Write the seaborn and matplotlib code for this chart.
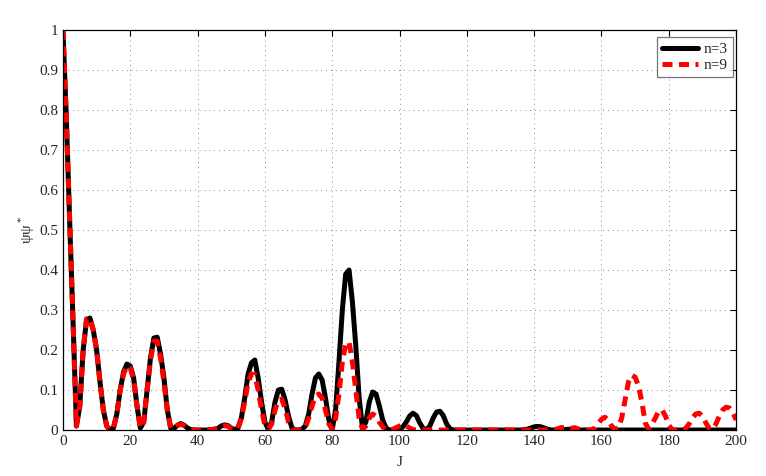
import numpy as np
import pandas as pd
import matplotlib
matplotlib.use('Agg')
import matplotlib.pyplot as plt
import seaborn as sns

# probability psi*psi at each step J = 0..200
J = list(range(201))

n3 = [
    1.00, 0.78, 0.52, 0.27, 0.01, 0.06, 0.20, 0.275, 0.28, 0.25,   # 0-9
    0.20, 0.12, 0.05, 0.01, 0.0, 0.005, 0.04, 0.10, 0.145, 0.165,  # 10-19
    0.16, 0.13, 0.06, 0.005, 0.02, 0.10, 0.18, 0.23, 0.232, 0.19,  # 20-29
    0.13, 0.05, 0.005, 0.004, 0.012, 0.016, 0.012, 0.005, 0.001, 0.0,  # 30-39
    0.0, 0.0, 0.0, 0.0, 0.001, 0.002, 0.004, 0.010, 0.013, 0.011,  # 40-49
    0.005, 0.001, 0.005, 0.03, 0.08, 0.14, 0.168, 0.175, 0.13, 0.07,  # 50-59
    0.02, 0.002, 0.02, 0.07, 0.10, 0.102, 0.075, 0.035, 0.006, 0.0,  # 60-69
    0.0, 0.002, 0.01, 0.04, 0.09, 0.13, 0.14, 0.125, 0.08, 0.025,  # 70-79
    0.002, 0.05, 0.17, 0.30, 0.39, 0.40, 0.32, 0.21, 0.08, 0.005,  # 80-89
    0.02, 0.07, 0.095, 0.09, 0.06, 0.025, 0.005, 0.0, 0.0, 0.0,  # 90-99
    0.002, 0.008, 0.02, 0.035, 0.042, 0.036, 0.018, 0.004, 0.001, 0.01,  # 100-109
    0.03, 0.045, 0.047, 0.036, 0.015, 0.003, 0.0, 0.0, 0.0, 0.0,  # 110-119
    0.0, 0.0, 0.0, 0.0, 0.0, 0.0, 0.0, 0.0, 0.0, 0.0,  # 120-129
    0.0, 0.0, 0.0, 0.0, 0.0, 0.0, 0.0, 0.001, 0.002, 0.005,  # 130-139
    0.008, 0.009, 0.008, 0.005, 0.002, 0.0, 0.0, 0.0, 0.0, 0.001,  # 140-149
    0.002, 0.001, 0.0, 0.0, 0.0, 0.0, 0.0, 0.0, 0.0, 0.0,  # 150-159
    0.0, 0.0, 0.0, 0.0, 0.0, 0.0, 0.0, 0.0, 0.0, 0.0,  # 160-169
    0.0, 0.0, 0.0, 0.0, 0.0, 0.0, 0.0, 0.0, 0.0, 0.0,  # 170-179
    0.0, 0.0, 0.0, 0.0, 0.0, 0.0, 0.0, 0.0, 0.0, 0.0,  # 180-189
    0.0, 0.0, 0.0, 0.0, 0.0, 0.0, 0.0, 0.0, 0.0, 0.0,  # 190-199
    0.0,
]

n9 = [
    1.00, 0.78, 0.52, 0.27, 0.01, 0.06, 0.20, 0.278, 0.28, 0.25,   # 0-9
    0.20, 0.12, 0.05, 0.01, 0.0, 0.005, 0.04, 0.10, 0.14, 0.16,  # 10-19
    0.155, 0.125, 0.06, 0.005, 0.02, 0.10, 0.175, 0.222, 0.222, 0.18,  # 20-29
    0.12, 0.05, 0.005, 0.004, 0.011, 0.014, 0.011, 0.005, 0.001, 0.0,  # 30-39
    0.0, 0.0, 0.0, 0.0, 0.001, 0.002, 0.004, 0.009, 0.011, 0.009,  # 40-49
    0.004, 0.001, 0.004, 0.03, 0.07, 0.12, 0.14, 0.138, 0.10, 0.05,  # 50-59
    0.012, 0.002, 0.015, 0.05, 0.075, 0.077, 0.055, 0.02, 0.004, 0.0,  # 60-69
    0.0, 0.0, 0.006, 0.03, 0.06, 0.085, 0.09, 0.08, 0.05, 0.015,  # 70-79
    0.002, 0.03, 0.09, 0.17, 0.215, 0.22, 0.17, 0.10, 0.03, 0.002,  # 80-89
    0.01, 0.03, 0.04, 0.035, 0.02, 0.008, 0.001, 0.0, 0.002, 0.006,  # 90-99
    0.01, 0.012, 0.01, 0.005, 0.001, 0.0, 0.0, 0.0, 0.0, 0.0,  # 100-109
    0.0, 0.0, 0.0, 0.0, 0.0, 0.0, 0.0, 0.0, 0.0, 0.0,  # 110-119
    0.0, 0.0, 0.0, 0.0, 0.0, 0.0, 0.0, 0.0, 0.0, 0.0,  # 120-129
    0.0, 0.0, 0.0, 0.0, 0.0, 0.0, 0.0, 0.0, 0.0, 0.0,  # 130-139
    0.0, 0.0, 0.0, 0.0, 0.0, 0.0, 0.001, 0.003, 0.006, 0.006,  # 140-149
    0.003, 0.004, 0.006, 0.003, 0.0, 0.0, 0.0, 0.0, 0.005, 0.015,  # 150-159
    0.027, 0.032, 0.025, 0.01, 0.002, 0.005, 0.03, 0.075, 0.12, 0.137,  # 160-169
    0.132, 0.11, 0.07, 0.018, 0.002, 0.015, 0.03, 0.048, 0.05, 0.035,  # 170-179
    0.012, 0.001, 0.0, 0.0, 0.0, 0.004, 0.015, 0.03, 0.04, 0.042,  # 180-189
    0.035, 0.018, 0.004, 0.002, 0.015, 0.035, 0.05, 0.057, 0.055, 0.045,  # 190-199
    0.025,
]

df = pd.DataFrame({'J': J, 'n=3': n3, 'n=9': n9})

sns.set_style('white')
plt.rcParams['font.family'] = ['Liberation Serif', 'DejaVu Serif']
plt.rcParams['mathtext.fontset'] = 'custom'
plt.rcParams['mathtext.rm'] = 'Liberation Serif'

fig = plt.figure(figsize=(7.66, 4.76), dpi=100)
ax = fig.add_axes([0.0822, 0.0966, 0.8788, 0.8404])

sns.lineplot(data=df, x='J', y='n=3', ax=ax, color='black', lw=3.6,
             label='n=3')
sns.lineplot(data=df, x='J', y='n=9', ax=ax, color='red', lw=3.6,
             label='n=9')
ax.lines[1].set_dashes((2.0, 1.3))

ax.set_xlim(0, 200)
ax.set_ylim(0, 1)
ax.set_xticks(np.arange(0, 201, 20))
ax.set_yticks(np.arange(0, 1.01, 0.1))
ax.set_yticklabels(['0', '0.1', '0.2', '0.3', '0.4', '0.5', '0.6',
                    '0.7', '0.8', '0.9', '1'])
ax.grid(True, linestyle=(0, (1, 4)), color='#888888', lw=0.7)
ax.tick_params(direction='in', top=True, right=True, labelsize=11,
               length=4, color='black')
for s in ax.spines.values():
    s.set_color('black')
    s.set_linewidth(0.9)

ax.set_xlabel('J', fontsize=11, labelpad=6)
ax.set_ylabel(r'ψψ$^*$', fontsize=11)
ax.yaxis.set_label_coords(-0.039, 0.5)

leg = ax.legend(loc='upper right', bbox_to_anchor=(0.9955, 0.9825),
                borderaxespad=0, fontsize=11, handlelength=2.3,
                labelspacing=0.15, borderpad=0.35, handletextpad=0.4,
                frameon=True, fancybox=False)
leg.get_frame().set_edgecolor('#555555')
leg.get_frame().set_linewidth(0.9)

fig.savefig('out.png', dpi=100)
